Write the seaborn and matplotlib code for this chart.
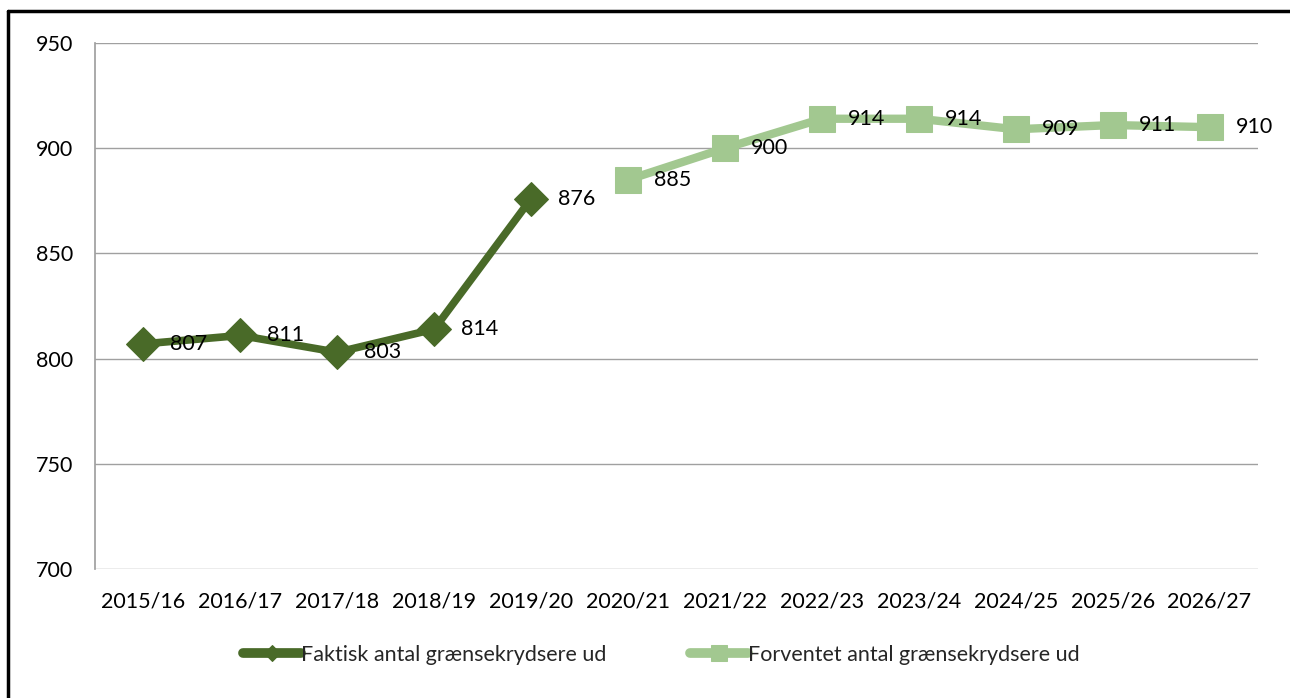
import matplotlib
matplotlib.use("Agg")
import matplotlib.pyplot as plt
import seaborn as sns
import numpy as np
import pandas as pd

years = ["2015/16", "2016/17", "2017/18", "2018/19", "2019/20", "2020/21",
         "2021/22", "2022/23", "2023/24", "2024/25", "2025/26", "2026/27"]
actual = [807, 811, 803, 814, 876, np.nan, np.nan, np.nan, np.nan, np.nan, np.nan, np.nan]
forecast = [np.nan, np.nan, np.nan, np.nan, np.nan, 885, 900, 914, 914, 909, 911, 910]
name_actual = "Faktisk antal grænsekrydsere ud"
name_forecast = "Forventet antal grænsekrydsere ud"

dark = "#496a28"
light = "#a2c890"

sns.set_theme(style="white")
plt.rcParams["font.family"] = ["Lato", "DejaVu Sans"]
FS = 15.5

fig = plt.figure(figsize=(12.9, 6.98), dpi=100)
ax = fig.add_axes([95/1290, 1 - 569/698, (1258-95)/1290, (569-43)/698])

df = pd.DataFrame({"year": years, name_actual: actual, name_forecast: forecast})

sns.lineplot(data=df, x="year", y=name_actual, ax=ax, color=dark, lw=5.5,
             marker="D", markersize=17, markeredgecolor=dark, sort=False,
             label=name_actual)
sns.lineplot(data=df, x="year", y=name_forecast, ax=ax, color=light, lw=6,
             marker="s", markersize=18.5, markeredgecolor=light, sort=False,
             label=name_forecast)

for i, v in enumerate(actual):
    if not np.isnan(v):
        ax.annotate(f"{v:.0f}", (i, v), xytext=(19, 0), textcoords="offset points",
                    ha="left", va="center", fontsize=FS, color="black")
for i, v in enumerate(forecast):
    if not np.isnan(v):
        ax.annotate(f"{v:.0f}", (i, v), xytext=(19, 0), textcoords="offset points",
                    ha="left", va="center", fontsize=FS, color="black")

ax.set_ylim(700, 950)
ax.set_yticks([700, 750, 800, 850, 900, 950])
ax.set_xlim(-0.5, len(years) - 0.5)
ax.set_xlabel("")
ax.set_ylabel("")
ax.yaxis.grid(True, color="#a0a0a0", lw=1)
ax.xaxis.grid(False)
for s in ["top", "right", "bottom"]:
    ax.spines[s].set_visible(False)
ax.spines["left"].set_color("#a0a0a0")
ax.tick_params(axis="both", length=0, labelsize=FS, colors="black")
ax.tick_params(axis="y", pad=16)
ax.tick_params(axis="x", pad=16)

leg = ax.legend(loc="center", bbox_to_anchor=(0.487, -0.1635), ncol=2, frameon=False,
                fontsize=FS, handlelength=2.7, columnspacing=3.9, handletextpad=0.0)
for h in leg.legend_handles:
    h.set_linewidth(7)
    h.set_solid_capstyle("round")
leg.legend_handles[0].set_markersize(8)
leg.legend_handles[1].set_markersize(11)

# outer frame (left and top border)
fig.add_artist(plt.Line2D([8/1290, 8/1290], [0, 1 - 11/698], color="black", lw=2.5, transform=fig.transFigure))
fig.add_artist(plt.Line2D([8/1290, 1], [1 - 11/698, 1 - 11/698], color="black", lw=2.5, transform=fig.transFigure))

fig.savefig("out.png", dpi=100)
